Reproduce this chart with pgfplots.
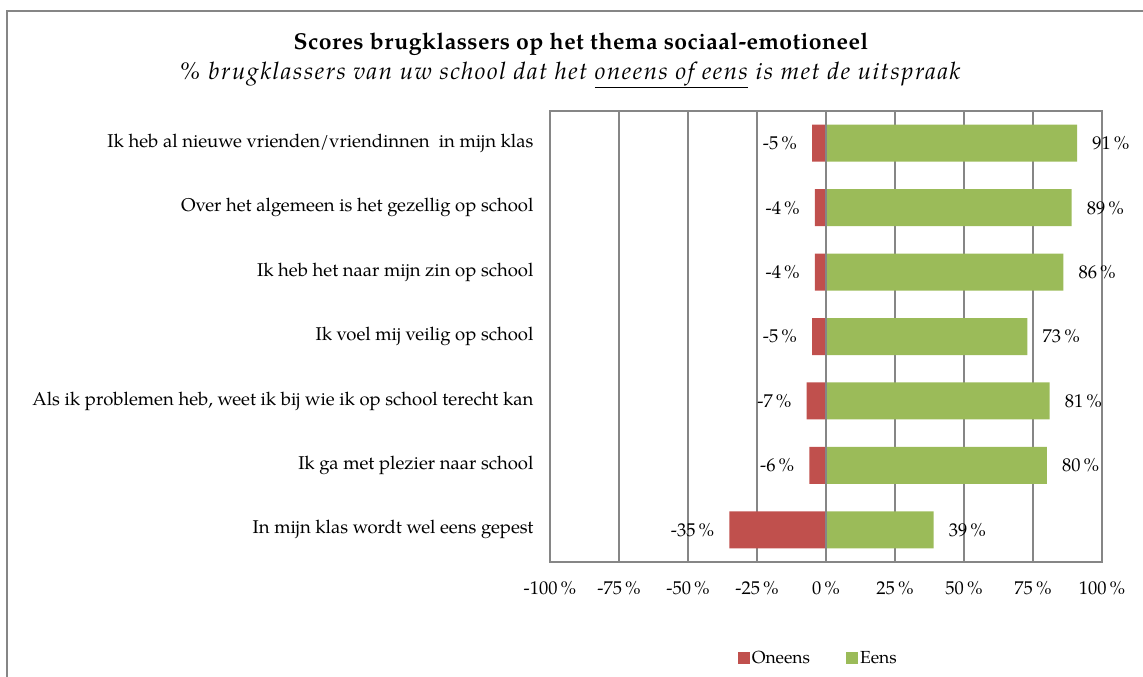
\documentclass[border=0pt]{standalone}
\usepackage{fontspec}
\setmainfont{texgyrepagella}[Extension=.otf, UprightFont=*-regular, BoldFont=*-bold, ItalicFont=*-italic, BoldItalicFont=*-bolditalic]
\usepackage{pgfplots}
\pgfplotsset{compat=1.18}
\definecolor{rred}{HTML}{C0504D}
\definecolor{ggreen}{HTML}{9BBB59}
\definecolor{lgray}{HTML}{868686}

\begin{document}
\begin{tikzpicture}[x=1pt,y=1pt]
\path[use as bounding box] (0pt,0pt) rectangle (1143pt,677pt);
\draw[lgray, line width=2pt] (7pt,0pt) -- (7pt,666pt) -- (1143pt,666pt);
\node[font=\fontsize{23}{27}\selectfont\bfseries\addfontfeature{LetterSpace=2}] at (581pt,633pt) {Scores brugklassers op het thema sociaal-emotioneel};
\node[font=\fontsize{24}{28}\selectfont\itshape\addfontfeature{LetterSpace=6.5}] at (570pt,602pt) {\% brugklassers van uw school dat het \underline{oneens of eens} is met de uitspraak};
\begin{axis}[
    at={(550pt,115pt)}, anchor=south west,
    scale only axis, width=552pt, height=451pt,
    xbar, bar width=37pt,
    xmin=-100, xmax=100, ymin=-0.5, ymax=6.5, y dir=reverse,
    xtick={-100,-75,...,100},
    xticklabels={-100\,\%,-75\,\%,-50\,\%,-25\,\%,0\,\%,25\,\%,50\,\%,75\,\%,100\,\%},
    ytick={0,...,6},
    yticklabels={Ik heb al nieuwe vrienden/vriendinnen\ \ in mijn klas,
        Over het algemeen is het gezellig op school,
        Ik heb het naar mijn zin op school,
        Ik voel mij veilig op school,
        {Als ik problemen heb, weet ik bij wie ik op school terecht kan},
        Ik ga met plezier naar school,
        In mijn klas wordt wel eens gepest},
    major tick length=0pt,
    xmajorgrids, grid style={lgray, line width=1.5pt},
    axis line style={lgray, line width=1.5pt},
    tick label style={font=\fontsize{18.5}{22}\selectfont},
    xticklabel style={yshift=-16pt},
    yticklabel style={xshift=-13pt},
    /pgf/number format/assume math mode=true,
    point meta=x,
    nodes near coords={\pgfmathprintnumber{\pgfplotspointmeta}\,\%},
    every node near coord/.append style={font=\fontsize{18.5}{22}\selectfont, inner xsep=15pt},
    legend columns=2,
    legend style={at={(0.486,-0.213)}, anchor=center, draw=none,
        font=\fontsize{17.5}{21}\selectfont,
        /tikz/every even column/.append style={column sep=34pt}},
]
\addplot[fill=rred, draw=none, bar shift=0pt,
    legend image code/.code={\fill[rred] (0pt,-6pt) rectangle (12pt,6pt);}]
    coordinates {(-5,0) (-4,1) (-4,2) (-5,3) (-7,4) (-6,5) (-35,6)};
\addplot[fill=ggreen, draw=none, bar shift=0pt,
    legend image code/.code={\fill[ggreen] (0pt,-6pt) rectangle (12pt,6pt);}]
    coordinates {(91,0) (89,1) (86,2) (73,3) (81,4) (80,5) (39,6)};
\draw[lgray, line width=1.5pt] (axis cs:0,-0.5) -- (axis cs:0,6.5);
\legend{Oneens, Eens}
\end{axis}
\end{tikzpicture}
\end{document}
